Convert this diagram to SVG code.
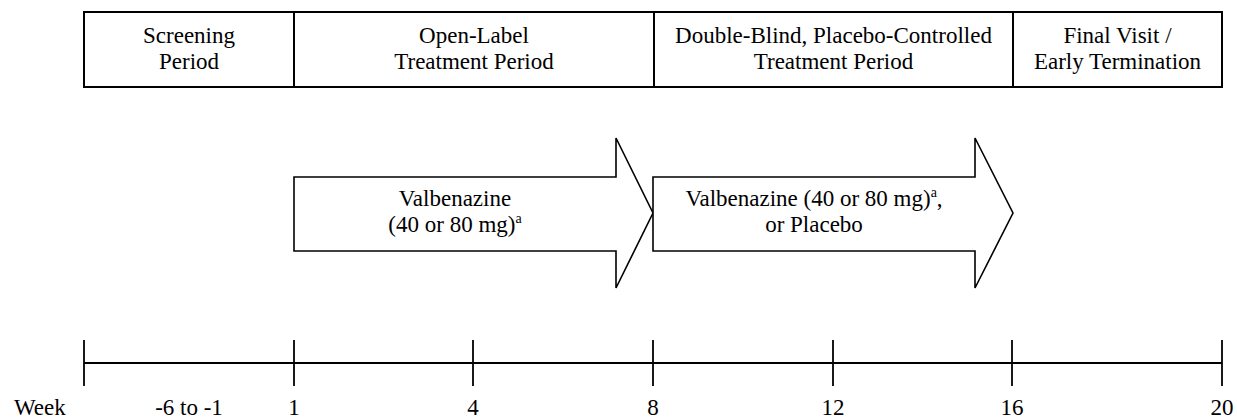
<svg xmlns="http://www.w3.org/2000/svg" width="1237" height="419" viewBox="0 0 1237 419">
<style>
text { font-size: 23px; fill: #000; text-anchor: middle; }
.cell { fill: #fff; stroke: #000; stroke-width: 2; }
.arrow { fill: #fff; stroke: #000; stroke-width: 1.6; stroke-linejoin: miter; }
.axis { stroke: #000; stroke-width: 1.8; fill: none; }
.sup { font-size: 14px; }
</style>
<rect width="1237" height="419" fill="#fff"/>
<g font-family="Liberation Serif">
<g id="header">
  <g id="cell-screening">
    <rect class="cell" x="84" y="12" width="210" height="75"/>
    <text x="189" y="42.5">Screening</text>
    <text x="189" y="68.5">Period</text>
  </g>
  <g id="cell-open-label">
    <rect class="cell" x="294" y="12" width="360" height="75"/>
    <text x="474" y="42.5">Open-Label</text>
    <text x="474" y="68.5">Treatment Period</text>
  </g>
  <g id="cell-double-blind">
    <rect class="cell" x="654" y="12" width="359" height="75"/>
    <text x="833.5" y="42.5">Double-Blind, Placebo-Controlled</text>
    <text x="833.5" y="68.5">Treatment Period</text>
  </g>
  <g id="cell-final">
    <rect class="cell" x="1013" y="12" width="209" height="75"/>
    <text x="1117.5" y="42.5">Final Visit /</text>
    <text x="1117.5" y="68.5">Early Termination</text>
  </g>
</g>
<g id="arrow-open-label">
  <path class="arrow" d="M294,177 L616,177 L616,138 L653,213 L616,288 L616,251 L294,251 Z"/>
  <text x="455" y="206">Valbenazine</text>
  <text x="455" y="232">(40 or 80 mg)<tspan class="sup" dy="-9">a</tspan></text>
</g>
<g id="arrow-double-blind">
  <path class="arrow" d="M653,177 L975,177 L975,138 L1013,213 L975,288 L975,251 L653,251 Z"/>
  <text x="814" y="206">Valbenazine (40 or 80 mg)<tspan class="sup" dy="-9">a</tspan><tspan dy="9">,</tspan></text>
  <text x="814" y="232">or Placebo</text>
</g>
<g id="connectors"></g>
<g id="timeline">
  <line class="axis" x1="84" y1="363" x2="1222" y2="363"/>
  <line class="axis" x1="84" y1="340" x2="84" y2="386"/>
  <line class="axis" x1="294" y1="340" x2="294" y2="386"/>
  <line class="axis" x1="473" y1="340" x2="473" y2="386"/>
  <line class="axis" x1="653" y1="340" x2="653" y2="386"/>
  <line class="axis" x1="833" y1="340" x2="833" y2="386"/>
  <line class="axis" x1="1012" y1="340" x2="1012" y2="386"/>
  <line class="axis" x1="1222" y1="340" x2="1222" y2="386"/>
  <text x="14" y="415" style="text-anchor:start">Week</text>
  <text x="189" y="415">-6 to -1</text>
  <text x="294" y="415">1</text>
  <text x="473" y="415">4</text>
  <text x="653" y="415">8</text>
  <text x="833" y="415">12</text>
  <text x="1012" y="415">16</text>
  <text x="1222" y="415">20</text>
</g>
</g>
</svg>
